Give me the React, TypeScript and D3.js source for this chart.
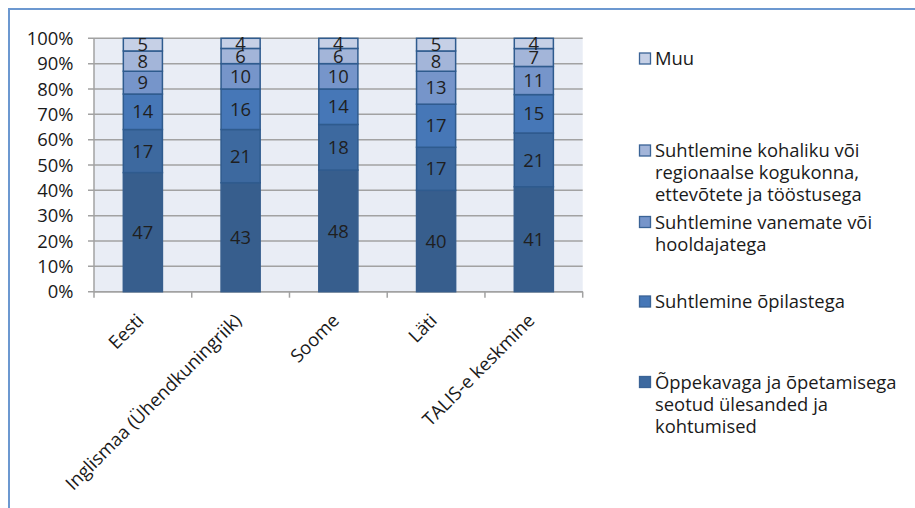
import React from "react";
import * as d3 from "d3";

const categories = ["Eesti", "Inglismaa (Ühendkuningriik)", "Soome", "Läti", "TALIS-e keskmine"];
const seriesKeys = ["haldus", "oppekava", "opilased", "vanemad", "kogukond", "muu"];
const haldus = [47, 43, 48, 40, 41];
const oppekava = [17, 21, 18, 17, 21];
const opilased = [14, 16, 14, 17, 15];
const vanemad = [9, 10, 10, 13, 11];
const kogukond = [8, 6, 6, 8, 7];
const muu = [5, 4, 4, 5, 4];
const seriesValues = [haldus, oppekava, opilased, vanemad, kogukond, muu];
const seriesColors = ["#375e8d", "#3d699f", "#4677b7", "#7695ca", "#a3b5d9", "#c6d0e6"];
const yTicks = [0, 0.1, 0.2, 0.3, 0.4, 0.5, 0.6, 0.7, 0.8, 0.9, 1];
const legendEntries = [
  { series: 5, lines: ["Muu"] },
  { series: 4, lines: ["Suhtlemine kohaliku või", "regionaalse kogukonna,", "ettevõtete ja tööstusega"] },
  { series: 3, lines: ["Suhtlemine vanemate või", "hooldajatega"] },
  { series: 2, lines: ["Suhtlemine õpilastega"] },
  { series: 1, lines: ["Õppekavaga ja õpetamisega", "seotud ülesanded ja", "kohtumised"] },
];
const legendTops = [58.5, 150.5, 222, 301.5, 382];

const FONT = "'Open Sans', sans-serif";
const FS = 18.4;

export default function App() {
  const W = 915, H = 508;
  const left = 94, right = 582.7, top = 38.3, bottom = 291.7;
  const rows = categories.map((c, i) => {
    const r: any = { cat: c };
    seriesKeys.forEach((k, j) => (r[k] = seriesValues[j][i]));
    return r;
  });
  const stack = d3.stack<any>().keys(seriesKeys).offset(d3.stackOffsetExpand);
  const stacked = stack(rows);
  const x = d3.scaleBand().domain(categories).range([left, right]).paddingInner(0.6).paddingOuter(0.3);
  const y = d3.scaleLinear().domain([0, 1]).range([bottom, top]);
  const step = x.step();
  const boundaries = d3.range(categories.length + 1).map((i) => left + i * step);

  return (
    <svg width={W} height={H} style={{ position: "fixed", left: 0, top: 0, background: "#fff" }}>
      <rect x={0} y={0} width={W} height={H} fill="#fff" />
      <rect x={9} y={9} width={W + 20} height={H + 20} fill="none" stroke="#6c98d0" strokeWidth={2} />
      <rect x={left} y={top} width={right - left} height={bottom - top} fill="#e9edf5" />
      {yTicks.map((t) => (
        <g key={t}>
          <line x1={left - 6} x2={right} y1={y(t)} y2={y(t)} stroke="#a2a2a2" strokeWidth={1.5} />
          <text x={73.5} y={y(t)} dy="0.36em" textAnchor="end" fontFamily={FONT} fontSize={FS} fill="#1a1a1a">
            {Math.round(t * 100) + "%"}
          </text>
        </g>
      ))}
      <line x1={left} x2={left} y1={top} y2={bottom} stroke="#a2a2a2" strokeWidth={1.5} />
      <line x1={left} x2={right} y1={bottom} y2={bottom} stroke="#a2a2a2" strokeWidth={1.5} />
      {boundaries.map((b, i) => (
        <line key={i} x1={b} x2={b} y1={bottom} y2={bottom + 6} stroke="#a2a2a2" strokeWidth={1.5} />
      ))}
      {stacked.map((s, si) => (
        <g key={s.key}>
          {s.map((d, ci) => {
            const x0 = x(categories[ci])!;
            const y0 = y(d[1]);
            const y1 = y(d[0]);
            return (
              <rect
                key={ci}
                x={x0}
                y={y0}
                width={x.bandwidth()}
                height={y1 - y0}
                fill={seriesColors[si]}
                stroke={si === 0 ? seriesColors[0] : "#2f5b8e"}
                strokeWidth={1.5}
              />
            );
          })}
        </g>
      ))}
      {stacked.map((s, si) =>
        s.map((d, ci) => {
          const cx = x(categories[ci])! + x.bandwidth() / 2;
          const cy = (y(d[0]) + y(d[1])) / 2;
          return (
            <text key={si + "-" + ci} x={cx} y={cy} dy="0.36em" textAnchor="middle" fontFamily={FONT} fontSize={FS} fill="#1f1f1f">
              {seriesValues[si][ci]}
            </text>
          );
        })
      )}
      {categories.map((c) => {
        const cx = x(c)! + x.bandwidth() / 2;
        return (
          <text
            key={c}
            transform={`translate(${cx + 2},${bottom + 30}) rotate(-45)`}
            textAnchor="end"
            fontFamily={FONT}
            fontSize={FS}
            fill="#1a1a1a"
          >
            {c}
          </text>
        );
      })}
      {legendEntries.map((e, i) => (
        <g key={i}>
          <rect x={639.5} y={legendTops[i] - 5.5} width={11} height={11} fill={seriesColors[e.series]} stroke="#3a6396" strokeWidth={1.3} />
          {e.lines.map((ln, li) => (
            <text key={li} x={655} y={legendTops[i] + li * 22} dy="0.36em" fontFamily={FONT} fontSize={FS} fill="#1a1a1a">
              {ln}
            </text>
          ))}
        </g>
      ))}
    </svg>
  );
}
